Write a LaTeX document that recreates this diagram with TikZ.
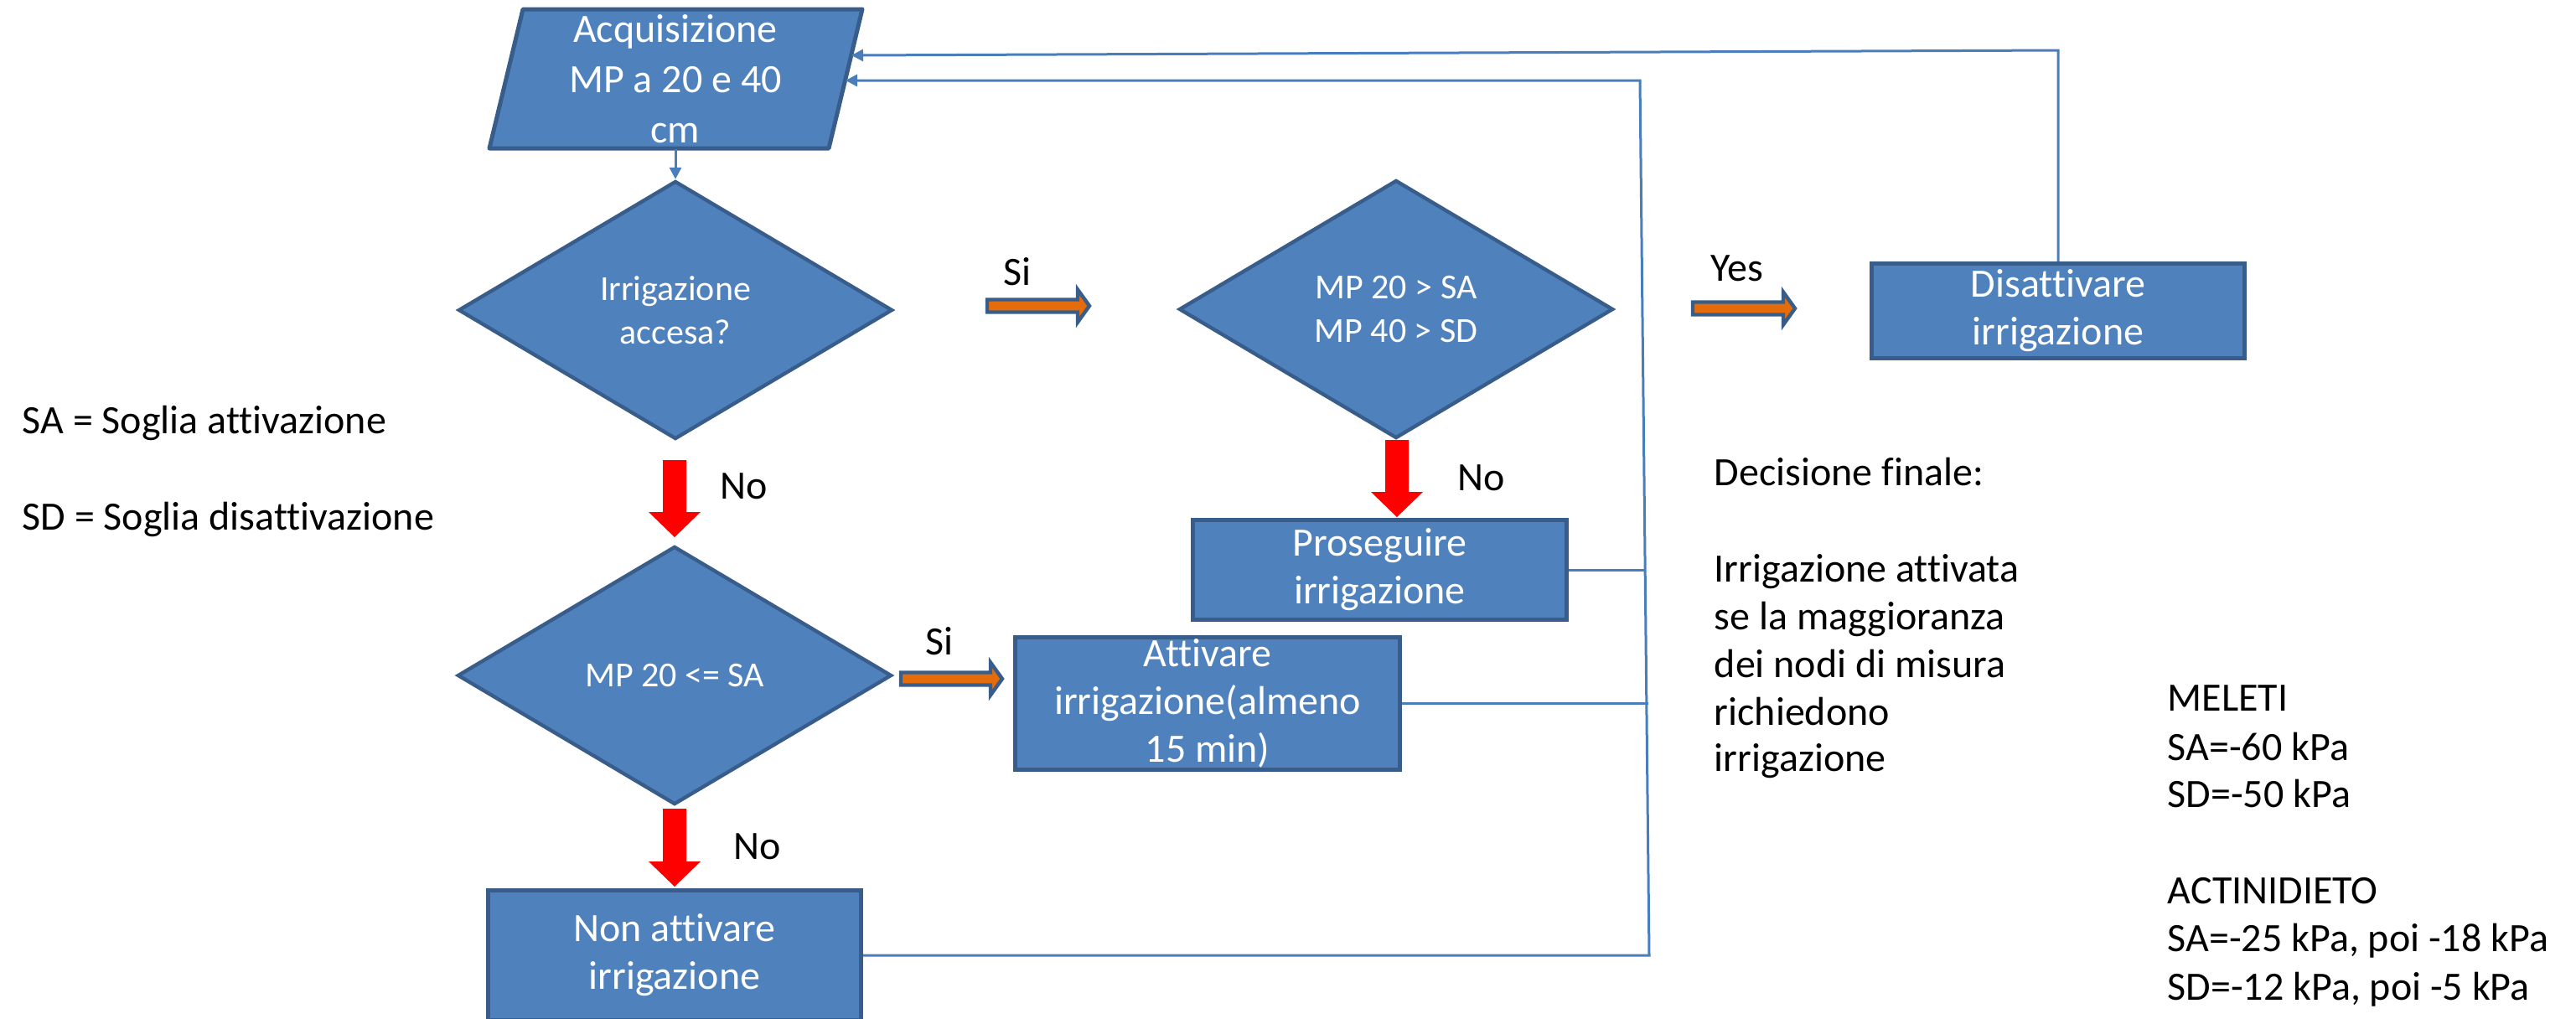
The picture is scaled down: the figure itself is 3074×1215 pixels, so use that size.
\documentclass[tikz,border=0pt]{standalone}
\usepackage{fontspec}
\setmainfont[Ligatures={NoCommon,NoRare,NoDiscretionary}]{Carlito}
\usetikzlibrary{shapes.geometric,arrows.meta}
\definecolor{boxfill}{HTML}{4F81BD}
\definecolor{boxline}{HTML}{385D8A}
\definecolor{conncol}{HTML}{4A7EBB}
\definecolor{orangefill}{HTML}{E46C0A}
% red block arrow: x, y top, y tip
\newcommand\redarr[3]{\fill[red] (#1-14,#2) -- (#1+14,#2) -- (#1+14,#3-30) -- (#1+31,#3-30) -- (#1,#3) -- (#1-31,#3-30) -- (#1-14,#3-30) -- cycle;}
% orange block arrow: x start, x tip, y
\newcommand\orarr[3]{\filldraw[orarrow] (#1,#3-7.5) -- (#2-17,#3-7.5) -- (#2-17,#3-19.5) -- (#2-3,#3) -- (#2-17,#3+19.5) -- (#2-17,#3+7.5) -- (#1,#3+7.5) -- cycle;}
\begin{document}
\begin{tikzpicture}[x=0.25pt,y=-0.25pt,
  box/.style={rectangle, draw=boxline, fill=boxfill, line width=1.25pt, text=white,
    font=\fontsize{12}{14.25}\selectfont, align=center, inner sep=0pt},
  dec/.style={diamond, draw=boxline, fill=boxfill, line width=1.1pt, text=white,
    font=\fontsize{10.5}{13}\selectfont, align=center, inner sep=0pt, aspect=1.67,
    minimum width=129.5pt, minimum height=77pt},
  conn/.style={draw=conncol, line width=0.75pt},
  connarrow/.style={conn, -{Triangle[length=3.5pt,width=3.5pt]}},
  lbl/.style={text=black, font=\fontsize{12}{14.25}\selectfont, inner sep=0pt},
  orarrow/.style={fill=orangefill, draw=boxline, line width=1.1pt, line join=miter},
]
\useasboundingbox (0,0) rectangle (3074,1215);

% input parallelogram
\filldraw[fill=boxfill, draw=boxline, line width=1.25pt, line join=round]
  (624,11) -- (1029,11) -- (989,177) -- (584,177) -- cycle;
\node[text=white, font=\fontsize{12}{15}\selectfont, align=center, inner sep=0pt,
  minimum height=41.5pt] (acq) at (806,94) {Acquisizione\\MP a 20 e 40\\cm};
\coordinate (acqin1) at (1016,66);
\coordinate (acqin2) at (1009,96);

% decisions
\node[dec] (d1) at (806,370) {Irrigazione\\accesa?};
\node[dec] (d2) at (1666,369) {MP 20 > SA\\MP 40 > SD};
\node[dec] (d3) at (805,806) {MP 20 <= SA};

% boxes
\node[box, minimum width=111.25pt, minimum height=28.25pt] (dis) at (2456,371) {Disattivare\\irrigazione};
\node[box, minimum width=111.5pt, minimum height=29.75pt] (pro) at (1646.5,680) {Proseguire\\irrigazione};
\node[box, minimum width=114.75pt, minimum height=39.5pt] (att) at (1441,839.5) {Attivare\\irrigazione(almeno\\15 min)};
\node[box, minimum width=111.25pt, minimum height=38.75pt] (non) at (805,1140) {Non attivare\\irrigazione};

% block arrows
\redarr{805}{549}{641}
\redarr{1667}{525}{617}
\redarr{805}{965}{1058}
\orarr{1178}{1303}{365}
\orarr{2020}{2145}{368}
\orarr{1075}{1199}{810}

% connectors
\draw[connarrow] (acq.south) -- (d1.north);
\draw[connarrow] (dis.north) -- (2456,60) -- (acqin1);
\draw[conn] (pro.east) -- (1963,680);
\draw[conn] (att.east) -- (1967,839.5);
\draw[connarrow] (non.east) -- (1968,1140) -- (1957,96) -- (acqin2);

% labels
\node[lbl, anchor=base] (si1) at (1214,340) {Si};
\node[lbl, anchor=base] (yes) at (2073,335) {Yes};
\node[lbl, anchor=base] (no1) at (888,595) {No};
\node[lbl, anchor=base] (no2) at (1768,585) {No};
\node[lbl, anchor=base] (si2) at (1121,781) {Si};
\node[lbl, anchor=base] (no3) at (904,1025) {No};

\node[lbl, anchor=base west] (sa) at (26,517) {SA = Soglia attivazione};
\node[lbl, anchor=base west] (sd) at (26,632) {SD = Soglia disattivazione};

\node[lbl, anchor=base west] (dec1) at (2045,579) {Decisione finale:};
\node[lbl, anchor=base west] (dec2) at (2045,694) {Irrigazione attivata};
\node[lbl, anchor=base west] (dec3) at (2045,751) {se la maggioranza};
\node[lbl, anchor=base west] (dec4) at (2045,808) {dei nodi di misura};
\node[lbl, anchor=base west] (dec5) at (2045,865) {richiedono};
\node[lbl, anchor=base west] (dec6) at (2045,920) {irrigazione};

\node[lbl, anchor=base west] (mel1) at (2586,848) {MELETI};
\node[lbl, anchor=base west] (mel2) at (2586,907) {SA=-60 kPa};
\node[lbl, anchor=base west] (mel3) at (2586,963) {SD=-50 kPa};
\node[lbl, anchor=base west] (act1) at (2586,1078) {ACTINIDIETO};
\node[lbl, anchor=base west] (act2) at (2586,1135) {SA=-25 kPa, poi -18 kPa};
\node[lbl, anchor=base west] (act3) at (2586,1193) {SD=-12 kPa, poi -5 kPa};
\end{tikzpicture}
\end{document}
